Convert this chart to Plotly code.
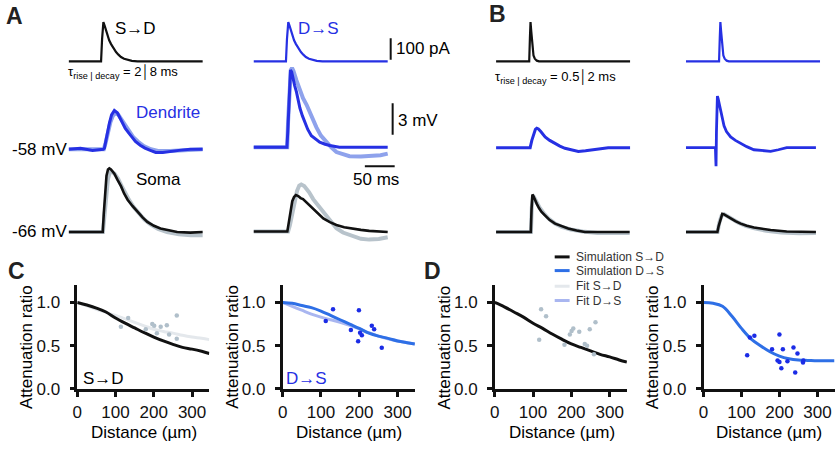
import plotly.graph_objects as go

FONT = 'Liberation Sans, Arial, Helvetica, sans-serif'

# ======================= DATA =======================
# Panel A: injected current waveform (tau rise|decay = 2|8 ms), time in ms, current in pA
T_I_A = [0, 54.4, 56.1, 57.2, 58.3, 60.5, 63, 65.5, 68, 71.2, 75, 79.5, 83.5, 87.8, 93, 98.8, 106, 115.5, 225]
I_A = [0, 0, 103, 164, 182, 165, 140, 118, 98, 80, 60, 43, 31, 20, 12, 6, 2, 0, 0]
# Panel B: injected current waveform (tau rise|decay = 0.5|2 ms)
T_I_B = [0, 55.6, 56.8, 57.8, 59, 60.5, 62.8, 65, 68.3, 72, 225]
I_B = [0, 0, 110, 182, 140, 80, 27, 12, 3, 0, 0]

# Panel A, S->D: dendrite recording (mV rel. to -58 mV) and fit
T_A1_DEN = [0, 20, 40, 58, 60, 64, 68.3, 72, 76.7, 81.7, 86, 90, 95, 101, 106, 112, 120, 128, 137, 146, 158, 170, 185, 204, 225]
V_A1_DEN = [0, 0.1, -0.1, 0, 0.1, 1.3, 2.5, 3.3, 3.72, 3.5, 3.0, 2.5, 2.0, 1.55, 1.15, 0.75, 0.4, 0.12, -0.1, -0.3, -0.3, -0.2, -0.1, 0, 0]
T_A1_DEN_FIT = [0, 59, 62, 66, 70, 74, 78, 83, 88, 94, 100, 108, 116, 126, 138, 150, 170, 200, 225]
V_A1_DEN_FIT = [0, 0, 0.6, 1.7, 2.6, 3.2, 3.45, 3.35, 2.95, 2.4, 1.85, 1.2, 0.75, 0.3, 0.0, -0.15, -0.15, -0.05, 0]
# Panel A, S->D: soma recording (mV rel. to -66 mV) and fit
T_A1_SOM = [0, 30, 57.2, 59, 61, 63.5, 66, 68.3, 71, 76.7, 82, 87.8, 93, 98.9, 107, 115.5, 124, 132, 143, 154, 168, 182, 204, 225]
V_A1_SOM = [0, 0, 0, 1.8, 4.0, 5.4, 6.0, 6.1, 6.0, 5.6, 5.0, 4.4, 3.7, 3.1, 2.5, 1.9, 1.4, 0.97, 0.6, 0.34, 0.15, 0, -0.05, 0]
T_A1_SOM_FIT = [0, 57.5, 60, 63, 66, 69, 72, 77, 83, 89, 95, 101, 109, 118, 127, 137, 150, 165, 185, 205, 225]
V_A1_SOM_FIT = [0, 0, 1.5, 3.8, 5.1, 5.7, 5.8, 5.6, 5.1, 4.4, 3.7, 3.1, 2.4, 1.75, 1.2, 0.75, 0.3, 0.0, -0.2, -0.3, -0.3]

# Panel A, D->S: dendrite recording and fit
T_A2_DEN = [0, 30, 56, 57.5, 59, 60.5, 62, 64, 66, 69, 72, 75, 77.8, 82, 86, 91, 97, 104, 111, 120, 128, 144, 170, 200, 225]
V_A2_DEN = [0, 0, 0, 1.5, 4, 6.5, 7.4, 7.2, 6.6, 5.9, 5.3, 4.5, 3.75, 3.0, 2.35, 1.7, 1.1, 0.75, 0.47, 0.28, 0.16, 0, 0, 0, 0]
T_A2_DEN_FIT = [0, 56.5, 58, 60, 62.5, 64.5, 67, 72, 78, 83, 89, 97, 105.5, 113, 122, 130, 139, 150, 161, 180, 200, 213, 225]
V_A2_DEN_FIT = [0, 0, 2.5, 5.5, 7.4, 7.6, 7.3, 6.4, 5.4, 4.7, 4.06, 2.9, 1.9, 1.1, 0.47, 0.0, -0.47, -0.72, -0.87, -0.9, -0.87, -0.78, -0.62]
# Panel A, D->S: soma recording and fit
T_A2_SOM = [0, 30, 56.7, 59, 62, 65, 68, 71, 75, 79, 83, 90, 100, 108, 117, 128, 139, 152, 167, 180, 194, 210, 225]
V_A2_SOM = [0, 0, 0, 0.8, 2.0, 2.9, 3.3, 3.5, 3.4, 3.2, 3.1, 2.7, 2.2, 1.7, 1.25, 0.9, 0.62, 0.4, 0.25, 0.15, 0.06, 0, -0.05]
T_A2_SOM_FIT = [0, 58, 61, 65, 69, 73, 76.7, 80, 85, 93.3, 100, 108, 117, 127, 139, 150, 167, 180, 194, 210, 225]
V_A2_SOM_FIT = [0, 0, 0.6, 1.8, 3.0, 3.9, 4.4, 4.5, 4.35, 3.75, 3.1, 2.5, 1.9, 1.1, 0.31, -0.1, -0.47, -0.7, -0.78, -0.72, -0.56]

# Panel B, S->D
T_B1_DEN = [0, 30, 57.2, 60, 63, 66, 68.3, 71, 75, 82.2, 90, 98.9, 107, 115.5, 127, 138, 150, 166, 188, 205, 225]
V_B1_DEN = [0, 0, 0, 0.7, 1.35, 1.75, 1.87, 1.8, 1.55, 1.03, 0.7, 0.4, 0.15, -0.06, -0.25, -0.37, -0.3, -0.15, 0, 0, 0]
T_B1_SOM = [0, 30, 58.3, 59.5, 61, 63, 65.5, 68.3, 72, 76, 82, 90, 99, 110, 121, 135, 149, 180, 224]
V_B1_SOM = [0, 0, 0, 2.2, 3.6, 3.4, 3.0, 2.7, 2.3, 1.95, 1.6, 1.15, 0.81, 0.55, 0.34, 0.15, 0, 0, 0]
T_B1_SOM_FIT = [0, 58.5, 60, 62, 65, 69, 74, 80, 88, 98, 110, 125, 145, 170, 200, 224]
V_B1_SOM_FIT = [0, 0, 2.4, 3.5, 3.2, 2.75, 2.25, 1.8, 1.3, 0.85, 0.5, 0.25, 0.05, -0.1, -0.12, -0.1]
# Panel B, D->S
T_B2_DEN = [0, 30, 49.5, 50, 50.5, 51.2, 52, 52.8, 54, 56, 58.3, 61, 63.9, 68, 75, 83, 91.7, 102, 114, 128, 142, 155, 169, 190, 218]
V_B2_DEN = [0, 0, 0, -1.0, -1.78, 1.5, 4.2, 4.94, 4.7, 4.1, 3.53, 2.7, 2.1, 1.55, 1.03, 0.7, 0.4, 0.1, -0.2, -0.3, -0.35, -0.2, 0, 0, 0]
T_B2_SOM = [0, 30, 52.8, 55, 58, 61, 64, 68, 75, 83, 91.7, 102, 114, 128, 142, 169, 218]
V_B2_SOM = [0, 0, 0, 0.6, 1.3, 1.75, 1.7, 1.55, 1.28, 1.05, 0.81, 0.6, 0.44, 0.3, 0.19, 0.06, 0]
T_B2_SOM_FIT = [0, 53, 56, 60, 64, 70, 78, 88, 100, 115, 135, 160, 190, 218]
V_B2_SOM_FIT = [0, 0, 0.9, 1.6, 1.7, 1.5, 1.2, 0.9, 0.6, 0.35, 0.12, -0.05, -0.12, -0.1]

# Scale bar sizes
SCALE_PA = 100
SCALE_MV = 3
SCALE_MS = 50

# Panels C/D: attenuation vs distance (um)
DIST = [0, 25, 50, 75, 100, 125, 150, 175, 200, 225, 250, 275, 300, 325, 345]
C_SIM_SD = [1.0, 0.97, 0.935, 0.89, 0.82, 0.76, 0.705, 0.65, 0.60, 0.555, 0.515, 0.48, 0.46, 0.435, 0.41]
C_FIT_SD = [1.0, 0.96, 0.92, 0.885, 0.85, 0.81, 0.77, 0.73, 0.69, 0.665, 0.645, 0.62, 0.60, 0.585, 0.57]
C_SIM_DS = [1.0, 0.99, 0.965, 0.94, 0.90, 0.85, 0.80, 0.75, 0.70, 0.645, 0.61, 0.585, 0.555, 0.535, 0.52]
C_FIT_DS = [1.0, 0.955, 0.91, 0.865, 0.83, 0.80, 0.77, 0.735, 0.695, 0.65, 0.61, 0.58, 0.555, 0.535, 0.52]
D_SIM_SD = [1.0, 0.95, 0.89, 0.83, 0.76, 0.70, 0.635, 0.575, 0.52, 0.48, 0.44, 0.40, 0.37, 0.335, 0.31]
D_SIM_DS = [1.0, 0.99, 0.955, 0.84, 0.70, 0.58, 0.50, 0.43, 0.38, 0.35, 0.335, 0.33, 0.325, 0.325, 0.325]

C_SD_X = [114, 133, 179, 196, 201, 208, 218, 234, 240, 260, 260]
C_SD_Y = [0.72, 0.82, 0.69, 0.75, 0.73, 0.645, 0.72, 0.735, 0.63, 0.85, 0.58]
C_DS_X = [112.5, 131.5, 178, 197, 199, 202, 206.7, 232.6, 238.7, 258.6]
C_DS_Y = [0.785, 0.92, 0.68, 0.55, 0.91, 0.65, 0.62, 0.73, 0.69, 0.475]
D_SD_X = [116, 121, 134, 182, 196, 200.6, 205, 220.6, 235, 241, 248, 259, 263]
D_SD_Y = [0.57, 0.92, 0.84, 0.51, 0.63, 0.67, 0.70, 0.66, 0.52, 0.50, 0.69, 0.40, 0.77]
D_DS_X = [115, 122, 134, 180.5, 195, 200, 200, 205, 209, 221, 237, 241.5, 247.5, 262, 263]
D_DS_Y = [0.39, 0.596, 0.615, 0.46, 0.33, 0.31, 0.63, 0.24, 0.46, 0.32, 0.48, 0.19, 0.41, 0.305, 0.33]

X_TICKS = [0, 100, 200, 300]
Y_TICKS = [0.0, 0.5, 1.0]
LEGEND_LABELS = ['Simulation S→D', 'Simulation D→S', 'Fit S→D', 'Fit D→S']

# ======================= STYLE =======================
BLACK = '#111111'
BLUE = '#2630e3'
BLUE_FIT = '#8ea2ec'
GRAY_FIT = '#b8c3cb'
SIM_BLUE = '#2e6fe6'
FIT_DS = '#a9b6f0'
FIT_SD = '#e4e8ec'
PT_GRAY = '#b0bfca'
PT_BLUE = '#1b2ce6'
LEGEND_COLORS = [BLACK, SIM_BLUE, FIT_SD, FIT_DS]

W, H = 837, 453
def fx(p):
    return p / W
def fy(p):
    return 1 - p / H

layout = dict(width=W, height=H, margin=dict(l=0, r=0, t=0, b=0),
              paper_bgcolor='white', plot_bgcolor='rgba(0,0,0,0)',
              showlegend=False, font=dict(family=FONT, size=17, color='black'))
fig = go.Figure()
_n = [0]

def new_axes(x0, x1, ytop, ybot, xr, yr, visible=False):
    _n[0] += 1
    s = '' if _n[0] == 1 else str(_n[0])
    xa = dict(domain=[fx(x0), fx(x1)], range=xr, anchor='y' + s, visible=visible, fixedrange=True)
    ya = dict(domain=[fy(ybot), fy(ytop)], range=yr, anchor='x' + s, visible=visible, fixedrange=True)
    if visible:
        common = dict(showline=True, linewidth=2.5, linecolor=BLACK, ticks='outside', ticklen=5,
                      tickwidth=2.5, tickcolor=BLACK, showgrid=False, zeroline=False,
                      tickfont=dict(size=17, color='#111'))
        xa.update(common, tickvals=X_TICKS, ticklabelstandoff=1)
        ya.update(common, tickvals=Y_TICKS, tickformat='.1f', ticklabelstandoff=6)
    layout['xaxis' + s] = xa
    layout['yaxis' + s] = ya
    return 'x' + s, 'y' + s

def line(ax, x, y, color, width, shape='linear', opacity=1):
    fig.add_trace(go.Scatter(x=x, y=y, xaxis=ax[0], yaxis=ax[1], mode='lines', opacity=opacity,
                             line=dict(color=color, width=width, shape=shape), hoverinfo='skip'))

def dots(ax, x, y, color, size=4.5):
    fig.add_trace(go.Scatter(x=x, y=y, xaxis=ax[0], yaxis=ax[1], mode='markers',
                             marker=dict(color=color, size=size), hoverinfo='skip'))

MS_PX, PA_PX, MV_PX = 0.6, 0.22, 10.67
COLS = {'A1': (64, 199), 'A2': (250, 400), 'B1': (494, 629), 'B2': (685, 820)}
DEN_BASE = {'A1': 152.7, 'A2': 150.5, 'B1': 151, 'B2': 151}
SOM_BASE = {'A1': 237.3, 'A2': 236.7, 'B1': 237.3, 'B2': 237.3}

def col_axes(c):
    x0, x1 = COLS[c]
    xr = [0, (x1 - x0) / MS_PX]
    cur = new_axes(x0, x1, 8, 70, xr, [-(70 - 62.7) / PA_PX, (62.7 - 8) / PA_PX])
    b = DEN_BASE[c]
    den = new_axes(x0, x1, 60, 182, xr, [-(182 - b) / MV_PX, (b - 60) / MV_PX])
    b = SOM_BASE[c]
    som = new_axes(x0, x1, 160, 252, xr, [-(252 - b) / MV_PX, (b - 160) / MV_PX])
    return cur, den, som

# ---- Panel A ----
cur, den, som = col_axes('A1')
line(cur, T_I_A, I_A, BLACK, 2.2)
line(den, T_A1_DEN_FIT, V_A1_DEN_FIT, BLUE_FIT, 4)
line(den, T_A1_DEN, V_A1_DEN, BLUE, 3)
line(som, T_A1_SOM_FIT, V_A1_SOM_FIT, GRAY_FIT, 4)
line(som, T_A1_SOM, V_A1_SOM, BLACK, 2.6)

cur2, den2, som2 = col_axes('A2')
line(cur2, T_I_A, I_A, BLUE, 2.2)
line(den2, T_A2_DEN_FIT, V_A2_DEN_FIT, BLUE_FIT, 4)
line(den2, T_A2_DEN, V_A2_DEN, BLUE, 3)
line(som2, T_A2_SOM_FIT, V_A2_SOM_FIT, GRAY_FIT, 4)
line(som2, T_A2_SOM, V_A2_SOM, BLACK, 2.6)
# scale bars
line(cur2, [230, 230], [7.7, 7.7 + SCALE_PA], BLACK, 2)
line(den2, [233.3, 233.3], [1.2, 1.2 + SCALE_MV], BLACK, 2)
line(den2, [186.7, 186.7 + SCALE_MS], [-1.83, -1.83], BLACK, 2)

# ---- Panel B ----
cur, den, som = col_axes('B1')
line(cur, T_I_B, I_B, BLACK, 2.2)
line(den, T_B1_DEN, V_B1_DEN, BLUE, 3)
line(som, T_B1_SOM_FIT, V_B1_SOM_FIT, GRAY_FIT, 4)
line(som, T_B1_SOM, V_B1_SOM, BLACK, 2.6)
cur, den, som = col_axes('B2')
line(cur, T_I_B, I_B, BLUE, 2.2)
line(den, T_B2_DEN, V_B2_DEN, BLUE, 2.8)
line(som, T_B2_SOM_FIT, V_B2_SOM_FIT, GRAY_FIT, 4)
line(som, T_B2_SOM, V_B2_SOM, BLACK, 2.6)

# ---- Panels C / D ----
YT, YB = 291.6, 397.7
cl = new_axes(72.7, 72.7 + 345 * 0.385, YT, YB, [0, 345], [0, 1.2], visible=True)
line(cl, DIST, C_FIT_SD, FIT_SD, 3, 'spline')
line(cl, DIST, C_SIM_SD, BLACK, 3, 'spline')
dots(cl, C_SD_X, C_SD_Y, PT_GRAY)

cr = new_axes(279.3, 279.3 + 345 * 0.3856, YT, YB, [0, 345], [0, 1.2], visible=True)
line(cr, DIST, C_FIT_DS, FIT_DS, 3, 'spline')
line(cr, DIST, C_SIM_DS, SIM_BLUE, 3, 'spline')
dots(cr, C_DS_X, C_DS_Y, PT_BLUE)

dl = new_axes(492.7, 492.7 + 345 * 0.3853, YT, YB, [0, 345], [0, 1.2], visible=True)
line(dl, DIST, D_SIM_SD, BLACK, 3, 'spline')
dots(dl, D_SD_X, D_SD_Y, PT_GRAY)

dr = new_axes(702.7, 702.7 + 345 * 0.382, YT, YB, [0, 345], [0, 1.2], visible=True)
line(dr, DIST, D_SIM_DS, SIM_BLUE, 3, 'spline')
dots(dr, D_DS_X, D_DS_Y, PT_BLUE)

# ======================= TEXT =======================
ann = []
def txt(s, x, y, size=17, color='black', xa='left', ya='middle', angle=0):
    ann.append(dict(text=s, x=fx(x), y=fy(y), xref='paper', yref='paper', showarrow=False,
                    xanchor=xa, yanchor=ya, textangle=angle, borderpad=0,
                    font=dict(size=size, color=color, family=FONT)))

for lab, x, y in [('A', 10, 16), ('B', 495, 14), ('C', 12, 277), ('D', 430, 277)]:
    txt('<b>%s</b>' % lab, x, y, size=23, color='#222', xa='center')

txt('S→D', 110, 29)
txt('D→S', 294, 29, color=BLUE)
txt('τ<sub>rise | decay</sub> = 2│8 ms', 62, 74, size=13)
txt('τ<sub>rise | decay</sub> = 0.5│2 ms', 492, 79, size=13)
txt('100 pA', 392, 50)
txt('3 mV', 394, 123)
txt('50 ms', 373, 184, xa='center')
txt('Dendrite', 131, 115, color=BLUE)
txt('Soma', 131, 184)
txt('-58 mV', 63, 153, xa='right')
txt('-66 mV', 63, 237, xa='right')

txt('S→D', 77, 387)
txt('D→S', 282, 387, color=BLUE)

for xc in [21, 229, 442, 651]:
    txt('Attenuation ratio', xc, 355, xa='center', angle=-90)
for xc in [140, 346, 560, 769]:
    txt('Distance (µm)', xc, 442, xa='center')

# legend (manual)
shapes = []
for i, (lab, col) in enumerate(zip(LEGEND_LABELS, LEGEND_COLORS)):
    yy = [262.7, 276.7, 292.7, 307.3][i]
    shapes.append(dict(type='line', xref='paper', yref='paper', x0=fx(553), x1=fx(568),
                       y0=fy(yy), y1=fy(yy), line=dict(color=col, width=3)))
    txt(lab, 573, yy, size=12, color='#333')

layout['annotations'] = ann
layout['shapes'] = shapes
fig.update_layout(**layout)
fig.write_html('out.html', config={'displayModeBar': False},
               post_script="document.body.style.margin='0';document.body.style.overflow='hidden';")
